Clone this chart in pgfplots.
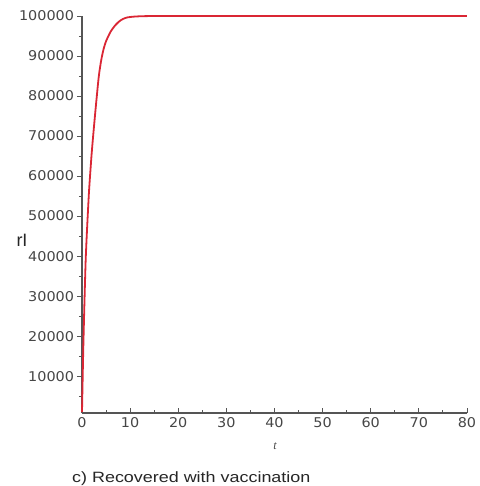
\documentclass[border=0pt]{standalone}
\usepackage{pgfplots}
\pgfplotsset{compat=1.18}
\usepackage{fontspec}
\setmainfont{DejaVu Sans}[FakeStretch=1.07]
\newfontfamily\capfont{Liberation Sans}[FakeStretch=1.2]
\newfontfamily\rifont{Liberation Sans}
\newfontfamily\tfont{Liberation Serif}
\definecolor{axgray}{RGB}{85,85,85}
\definecolor{lblgray}{RGB}{70,70,70}
\definecolor{curvered}{RGB}{218,38,52}
\begin{document}
\begin{tikzpicture}
\begin{axis}[
  scale only axis,
  width=385bp, height=397bp,
  xmin=0, xmax=80, ymin=800, ymax=100000,
  axis lines=left,
  axis line style={axgray, line width=1.1bp, -},
  xtick={0,10,...,80},
  ytick={10000,20000,...,100000},
  minor xtick={5,15,...,75},
  minor ytick={5000,15000,...,95000},
  tick align=inside,
  major tick length=5bp,
  minor tick length=3bp,
  tick style={axgray, line width=0.9bp},
  every major y tick/.append style={xshift=-5bp},
  every minor y tick/.append style={xshift=-3bp},
  scaled y ticks=false,
  /pgf/number format/assume math mode=true,
  /pgf/number format/fixed,
  /pgf/number format/1000 sep={},
  ticklabel style={font=\fontsize{13.5}{15}\selectfont, text=lblgray},
  yticklabel style={xshift=-4.5bp},
  xticklabel style={yshift=-1bp},
  clip=false,
]
\addplot[curvered, line width=1.8bp, smooth] coordinates {
(0,1000) (0.25,16000) (0.5,28000) (0.75,38500) (1,45500) (1.25,51500)
(1.5,57000) (2,65500) (2.5,72500) (3,79000) (3.5,85000) (4,89000)
(4.5,91800) (5,93700) (5.5,95000) (6,96200) (7,97800) (8,98900)
(9,99500) (10,99750) (12,99930) (15,99990) (20,100000) (40,100000) (80,100000)
};
\end{axis}
\node[font=\rifont\fontsize{18}{20}\selectfont, text=black!85] at ([xshift=-60bp,yshift=173bp]current axis.south west) {rI};
\node[font=\tfont\itshape\fontsize{12}{14}\selectfont, text=lblgray] at ([xshift=193bp,yshift=-33bp]current axis.south west) {t};
\node[anchor=west, font=\capfont\fontsize{15}{18}\selectfont, text=black!85, inner sep=0pt] at ([xshift=-10bp,yshift=-66bp]current axis.south west) {c) Recovered with vaccination};
\path ([xshift=-82bp,yshift=-73bp]current axis.south west) rectangle ++(478bp,486bp);
\end{tikzpicture}
\end{document}
